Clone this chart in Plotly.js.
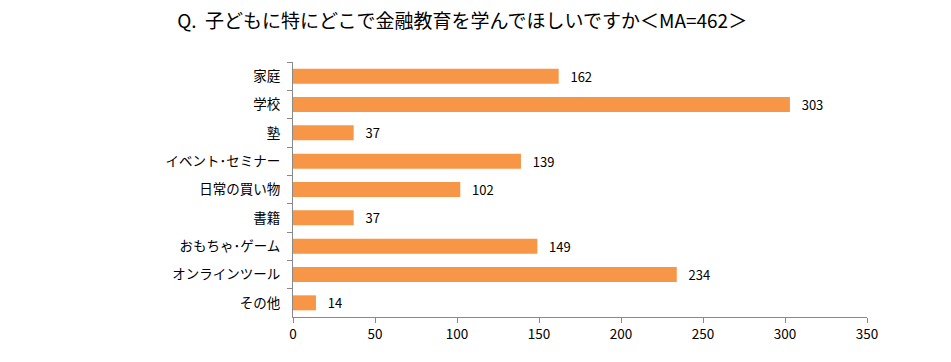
<!DOCTYPE html>
<html><head><meta charset="utf-8">
<script src="https://cdn.plot.ly/plotly-3.0.1.min.js"></script>
<style>html,body{margin:0;padding:0;background:#fff}</style>
</head><body><div id="chart" style="width:951px;height:362px"></div>
<script>
const categories = ["家庭","学校","塾","イベント･セミナー","日常の買い物","書籍","おもちゃ･ゲーム","オンラインツール","その他"];
const values = [162,303,37,139,102,37,149,234,14];
const xTicks = [0,50,100,150,200,250,300,350];
const titleText = "Q.&nbsp;&nbsp;子どもに特にどこで金融教育を学んでほしいですか＜MA=462＞";
const font = "Noto Sans CJK JP, sans-serif";
Plotly.newPlot("chart", [{
  type: "bar", orientation: "h",
  x: values, y: categories,
  width: 0.53,
  marker: {color: "#F79646"},
  text: values.map(v => "\u00a0\u00a0\u00a0" + v), textposition: "outside",
  constraintext: "none",
  textfont: {family: font, size: 13, color: "#000"},
  cliponaxis: false, hoverinfo: "none"
}], {
  width: 951, height: 362,
  margin: {l: 293, r: 84, t: 62, b: 45},
  paper_bgcolor: "#fff", plot_bgcolor: "#fff",
  font: {family: font, size: 13, color: "#000"},
  title: {text: titleText, x: 0.486, xanchor: "center", y: 0.94, yanchor: "middle", font: {family: font, size: 19, color: "#000"}},
  showlegend: false,
  xaxis: {range: [0, 350], tickvals: xTicks, ticktext: xTicks.map(String), showgrid: false, zeroline: false,
    showline: true, linecolor: "#898989", linewidth: 1, ticks: "outside", ticklen: 5, tickcolor: "#898989",
    tickfont: {family: font, size: 13.5, color: "#000"}, fixedrange: true},
  yaxis: {autorange: "reversed", type: "category", showgrid: false, zeroline: false,
    showline: true, linecolor: "#898989", linewidth: 1, ticks: "outside", ticklen: 5, tickcolor: "#898989",
    tickson: "boundaries", ticklabelstandoff: 9,
    tickfont: {family: font, size: 13.5, color: "#000"}, fixedrange: true}
}, {displayModeBar: false, staticPlot: true});
</script></body></html>
